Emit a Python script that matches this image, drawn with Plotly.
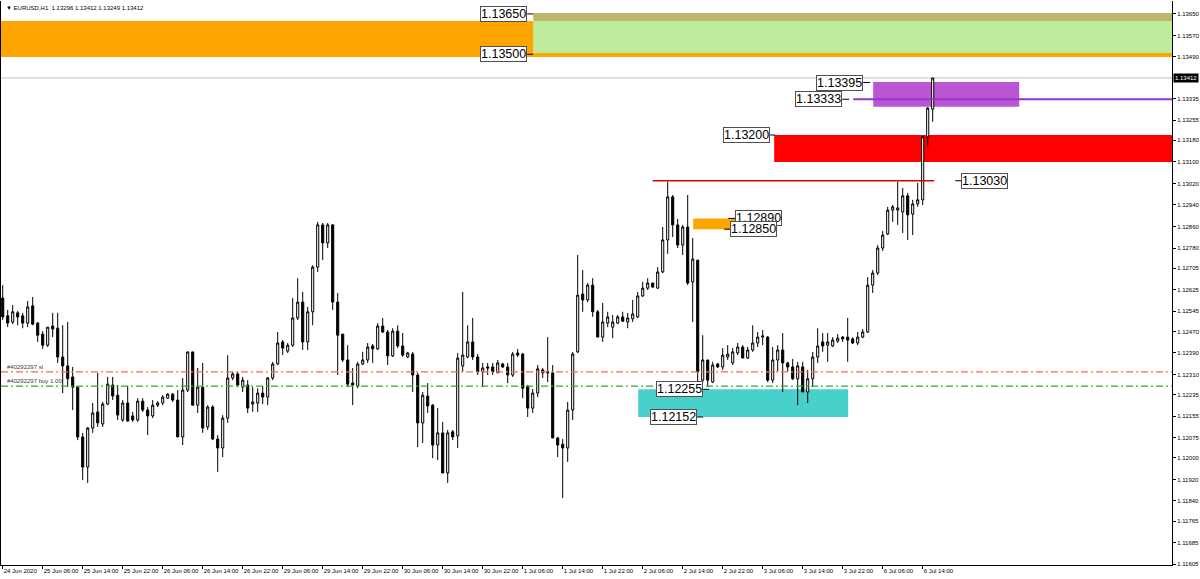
import plotly.graph_objects as go

# ---------------- data (EURUSD H1) ----------------
open_ = [1.12594,1.12528,1.12505,1.12539,1.12528,1.12501,1.12565,1.12501,1.12460,1.12419,
         1.12490,1.12482,1.12375,1.12342,1.12301,1.12263,1.12078,1.11966,1.12111,1.12171,
         1.12126,1.12200,1.12271,1.12233,1.12141,1.12204,1.12156,1.12141,1.12211,1.12178,
         1.12156,1.12196,1.12204,1.12222,1.12237,1.12215,1.12078,1.12252,1.12394,1.12196,
         1.12263,1.12115,1.12189,1.12070,1.12037,1.12148,1.12297,1.12312,1.12263,1.12271,
         1.12200,1.12204,1.12241,1.12226,1.12297,1.12349,1.12431,1.12397,1.12419,1.12520,
         1.12579,1.12431,1.12543,1.12709,1.12866,1.12799,1.12866,1.12579,1.12460,1.12364,
         1.12278,1.12267,1.12349,1.12364,1.12416,1.12405,1.12490,1.12468,1.12379,1.12471,
         1.12416,1.12375,1.12386,1.12308,1.12130,1.12230,1.12196,1.12048,1.12093,1.11944,
         1.12097,1.12082,1.12342,1.12375,1.12431,1.12375,1.12320,1.12338,1.12338,1.12316,
         1.12349,1.12338,1.12308,1.12390,1.12386,1.12267,1.12185,1.12241,1.12327,1.12320,
         1.12316,1.12074,1.12051,1.12037,1.12178,1.12394,1.12609,1.12587,1.12642,1.12543,
         1.12449,1.12501,1.12486,1.12501,1.12524,1.12505,1.12517,1.12524,1.12602,1.12631,
         1.12650,1.12631,1.12691,1.12810,1.12970,1.12866,1.12791,1.12858,1.12654,1.12735,
         1.12289,1.12364,1.12282,1.12349,1.12338,1.12375,1.12353,1.12390,1.12412,1.12371,
         1.12401,1.12427,1.12449,1.12449,1.12289,1.12364,1.12401,1.12353,1.12338,1.12294,
         1.12338,1.12245,1.12294,1.12375,1.12431,1.12419,1.12416,1.12434,1.12449,1.12449,
         1.12442,1.12427,1.12449,1.12468,1.12642,1.12687,1.12780,1.12832,1.12921,1.12921,
         1.12914,1.12974,1.12906,1.12944,1.12959,1.13193,1.13296]
high = [1.12642,1.12550,1.12568,1.12546,1.12539,1.12583,1.12598,1.12505,1.12471,1.12486,
        1.12539,1.12539,1.12493,1.12505,1.12338,1.12263,1.12093,1.12115,1.12204,1.12316,
        1.12208,1.12301,1.12301,1.12271,1.12215,1.12267,1.12171,1.12222,1.12222,1.12189,
        1.12215,1.12211,1.12233,1.12241,1.12241,1.12252,1.12297,1.12394,1.12394,1.12334,
        1.12353,1.12196,1.12196,1.12085,1.12159,1.12382,1.12320,1.12320,1.12301,1.12289,
        1.12263,1.12259,1.12267,1.12301,1.12357,1.12468,1.12438,1.12427,1.12594,1.12668,
        1.12617,1.12561,1.12716,1.12877,1.12873,1.12873,1.12869,1.12613,1.12460,1.12419,
        1.12334,1.12357,1.12394,1.12427,1.12423,1.12501,1.12520,1.12475,1.12482,1.12493,
        1.12464,1.12394,1.12394,1.12316,1.12245,1.12278,1.12200,1.12185,1.12134,1.12104,
        1.12104,1.12390,1.12617,1.12493,1.12520,1.12386,1.12353,1.12353,1.12353,1.12364,
        1.12353,1.12353,1.12394,1.12405,1.12390,1.12271,1.12256,1.12345,1.12334,1.12449,
        1.12345,1.12078,1.12070,1.12208,1.12394,1.12754,1.12698,1.12650,1.12668,1.12550,
        1.12576,1.12543,1.12531,1.12531,1.12543,1.12539,1.12587,1.12617,1.12654,1.12668,
        1.12650,1.12709,1.12858,1.13026,1.12977,1.12888,1.12866,1.12977,1.12817,1.12735,
        1.12456,1.12364,1.12357,1.12353,1.12408,1.12419,1.12408,1.12427,1.12419,1.12412,
        1.12493,1.12468,1.12475,1.12453,1.12412,1.12419,1.12464,1.12357,1.12368,1.12357,
        1.12357,1.12327,1.12394,1.12482,1.12464,1.12464,1.12449,1.12460,1.12453,1.12520,
        1.12449,1.12468,1.12479,1.12672,1.12698,1.12791,1.12843,1.12933,1.12940,1.13026,
        1.13003,1.12985,1.12959,1.13022,1.13197,1.13304,1.13412]
low = [1.12512,1.12486,1.12497,1.12493,1.12482,1.12486,1.12493,1.12431,1.12405,1.12412,
       1.12449,1.12353,1.12241,1.12263,1.12178,1.12066,1.11918,1.11907,1.12093,1.12115,
       1.12115,1.12196,1.12215,1.12141,1.12134,1.12134,1.12134,1.12134,1.12171,1.12085,
       1.12148,1.12189,1.12196,1.12219,1.12208,1.12078,1.12048,1.12245,1.12196,1.12167,
       1.12093,1.12104,1.12066,1.11948,1.12003,1.12130,1.12289,1.12263,1.12245,1.12167,
       1.12171,1.12171,1.12200,1.12196,1.12289,1.12345,1.12382,1.12390,1.12412,1.12512,
       1.12401,1.12401,1.12493,1.12691,1.12735,1.12780,1.12550,1.12308,1.12357,1.12263,
       1.12196,1.12259,1.12345,1.12353,1.12353,1.12401,1.12464,1.12345,1.12375,1.12408,
       1.12375,1.12371,1.12245,1.12040,1.12055,1.12167,1.11999,1.11992,1.11944,1.11907,
       1.12066,1.12037,1.12320,1.12371,1.12364,1.12308,1.12263,1.12308,1.12308,1.12316,
       1.12334,1.12278,1.12301,1.12375,1.12222,1.12152,1.12167,1.12226,1.12297,1.12282,
       1.12074,1.12003,1.11851,1.11985,1.12141,1.12390,1.12543,1.12579,1.12524,1.12449,
       1.12431,1.12486,1.12445,1.12497,1.12505,1.12482,1.12505,1.12520,1.12598,1.12624,
       1.12631,1.12628,1.12687,1.12758,1.12821,1.12780,1.12754,1.12642,1.12505,1.12278,
       1.12278,1.12263,1.12278,1.12334,1.12327,1.12364,1.12345,1.12382,1.12371,1.12368,
       1.12394,1.12412,1.12419,1.12282,1.12278,1.12320,1.12245,1.12320,1.12289,1.12196,
       1.12245,1.12204,1.12263,1.12353,1.12394,1.12357,1.12412,1.12427,1.12431,1.12357,
       1.12423,1.12419,1.12445,1.12464,1.12613,1.12679,1.12769,1.12828,1.12877,1.12866,
       1.12836,1.12810,1.12828,1.12933,1.12940,1.13156,1.13249]
close = [1.12524,1.12501,1.12543,1.12524,1.12501,1.12561,1.12497,1.12456,1.12419,1.12486,
         1.12479,1.12375,1.12342,1.12294,1.12263,1.12078,1.11966,1.12111,1.12167,1.12130,
         1.12200,1.12274,1.12230,1.12159,1.12204,1.12137,1.12141,1.12211,1.12178,1.12156,
         1.12196,1.12204,1.12226,1.12237,1.12215,1.12078,1.12252,1.12394,1.12196,1.12263,
         1.12111,1.12189,1.12070,1.12037,1.12148,1.12297,1.12312,1.12271,1.12289,1.12185,
         1.12208,1.12241,1.12226,1.12297,1.12349,1.12427,1.12408,1.12419,1.12520,1.12579,
         1.12431,1.12543,1.12709,1.12866,1.12799,1.12866,1.12579,1.12456,1.12364,1.12274,
         1.12271,1.12349,1.12364,1.12412,1.12405,1.12490,1.12468,1.12379,1.12471,1.12416,
         1.12382,1.12390,1.12308,1.12130,1.12233,1.12193,1.12048,1.12093,1.11944,1.12093,
         1.12078,1.12371,1.12382,1.12431,1.12375,1.12320,1.12334,1.12334,1.12320,1.12353,
         1.12338,1.12308,1.12386,1.12382,1.12259,1.12185,1.12241,1.12331,1.12316,1.12316,
         1.12074,1.12048,1.12037,1.12178,1.12386,1.12605,1.12587,1.12642,1.12543,1.12449,
         1.12505,1.12524,1.12505,1.12524,1.12508,1.12520,1.12535,1.12602,1.12631,1.12650,
         1.12635,1.12691,1.12810,1.12970,1.12866,1.12791,1.12858,1.12650,1.12739,1.12320,
         1.12364,1.12289,1.12345,1.12338,1.12382,1.12386,1.12394,1.12412,1.12371,1.12401,
         1.12427,1.12449,1.12453,1.12289,1.12364,1.12401,1.12353,1.12338,1.12294,1.12342,
         1.12245,1.12294,1.12375,1.12416,1.12416,1.12431,1.12438,1.12445,1.12442,1.12438,
         1.12427,1.12449,1.12468,1.12642,1.12687,1.12780,1.12828,1.12921,1.12933,1.12929,
         1.12974,1.12903,1.12944,1.12959,1.13193,1.13300,1.13412]

time_labels = ["24 Jun 2020", "25 Jun 06:00", "25 Jun 14:00", "25 Jun 22:00", "26 Jun 06:00",
               "26 Jun 14:00", "26 Jun 22:00", "29 Jun 06:00", "29 Jun 14:00", "29 Jun 22:00",
               "30 Jun 06:00", "30 Jun 14:00", "30 Jun 22:00", "1 Jul 06:00", "1 Jul 14:00",
               "1 Jul 22:00", "2 Jul 06:00", "2 Jul 14:00", "2 Jul 22:00", "3 Jul 06:00",
               "3 Jul 14:00", "3 Jul 22:00", "6 Jul 06:00", "6 Jul 14:00"]
bars_per_time_label = 8

price_ticks = ["1.13650", "1.13570", "1.13490", "1.13335", "1.13255", "1.13180", "1.13100",
               "1.13020", "1.12940", "1.12860", "1.12780", "1.12705", "1.12625", "1.12545",
               "1.12470", "1.12390", "1.12310", "1.12235", "1.12155", "1.12075", "1.12000",
               "1.11920", "1.11840", "1.11765", "1.11685", "1.11605"]

symbol_title = "EURUSD,H1"
current_price = 1.13412
sl_price = 1.12320
buy_price = 1.12267
sl_text = "#40292297 sl"
buy_text = "#40292297 buy 1.00"

# zones: start bar, end bar, lower price, upper price
zone_bars = [(-1, 240), (106.1, 240), (106.1, 240), (174.1, 203.3), (154.3, 240), (138.1, 146.7), (127.1, 169.1)]
zone_prices = [(1.13490, 1.13624), (1.13624, 1.13653), (1.13505, 1.13624), (1.13305, 1.13397),
               (1.13100, 1.13200), (1.12850, 1.12890), (1.12152, 1.12255)]
zone_colors = ["#FFA500", "#BDB76B", "#BEEB9C", "#BA55D3", "#FF0000", "#FFA500", "#48D1CC"]

# price labels: text, tick start bar, tick end bar, box side
level_labels = ["1.13650", "1.13500", "1.13395", "1.13333", "1.13200",
                "1.13030", "1.12890", "1.12850", "1.12255", "1.12152"]
level_ticks = [(104.9, 106.1), (104.9, 106.1), (172.1, 173.5), (167.9, 169.3), (153.5, 154.5),
               (190.5, 191.7), (145.1, 146.5), (144.3, 145.5), (140.1, 141.3), (138.9, 140.1)]
level_side = ["left", "left", "left", "left", "left", "right", "right", "right", "left", "left"]

purple_line = (170.1, 240, 1.13333)
red_line = (130.0, 186.3, 1.13030)

# ---------------- figure ----------------
bars = list(range(len(open_)))
XR = [-0.34, 233.86]
YR = [1.11602, 1.13698]
FONT = "Liberation Sans, Arial, sans-serif"
SMALL = dict(family=FONT, size=6, color="black")

fig = go.Figure()
fig.add_trace(go.Candlestick(
    x=bars, open=open_, high=high, low=low, close=close,
    increasing=dict(line=dict(color="black", width=1), fillcolor="white"),
    decreasing=dict(line=dict(color="black", width=1), fillcolor="black"),
    whiskerwidth=0, showlegend=False, hoverinfo="skip"))

shapes = []
for (x0, x1), (p0, p1), col in zip(zone_bars, zone_prices, zone_colors):
    shapes.append(dict(type="rect", xref="x", yref="y", x0=max(x0, XR[0]), x1=min(x1, XR[1]),
                       y0=p0, y1=p1, fillcolor=col, line=dict(width=0), layer="below"))
# bid line
shapes.append(dict(type="line", xref="x", yref="y", x0=XR[0], x1=XR[1], y0=current_price, y1=current_price,
                   line=dict(color="#C0C0C0", width=1), layer="below"))
# purple level line
shapes.append(dict(type="line", xref="x", yref="y", x0=purple_line[0], x1=XR[1], y0=purple_line[2],
                   y1=purple_line[2], line=dict(color="#9932CC", width=2)))
# red level line
shapes.append(dict(type="line", xref="x", yref="y", x0=red_line[0], x1=red_line[1], y0=red_line[2],
                   y1=red_line[2], line=dict(color="#E00000", width=1.5)))
# order lines
shapes.append(dict(type="line", xref="x", yref="y", x0=XR[0], x1=XR[1], y0=sl_price, y1=sl_price,
                   line=dict(color="#FF6A3D", width=1.2, dash="7px,3px,2px,3px")))
shapes.append(dict(type="line", xref="x", yref="y", x0=XR[0], x1=XR[1], y0=buy_price, y1=buy_price,
                   line=dict(color="#2EAD2E", width=1.2, dash="7px,3px,2px,3px")))

annotations = []
for txt, (t0, t1), side in zip(level_labels, level_ticks, level_side):
    p = float(txt)
    shapes.append(dict(type="line", xref="x", yref="y", x0=t0, x1=t1, y0=p, y1=p,
                       line=dict(color="black", width=1)))
    annotations.append(dict(xref="x", yref="y", x=t0 if side == "left" else t1, y=p,
                            xanchor="right" if side == "left" else "left", yanchor="middle",
                            text=txt, showarrow=False, bgcolor="white", bordercolor="#505050",
                            borderwidth=1, borderpad=0,
                            font=dict(family=FONT, size=12.5, color="black")))

# current price tag on axis
annotations.append(dict(xref="paper", yref="y", x=1, y=current_price, xanchor="left", yanchor="middle",
                        xshift=1, text=f"{current_price:.5f}", showarrow=False, bgcolor="black",
                        borderpad=1, font=dict(family=FONT, size=6, color="white")))
# order labels
annotations.append(dict(xref="paper", yref="y", x=0, y=sl_price, xanchor="left", yanchor="bottom",
                        xshift=4, text=sl_text, showarrow=False, font=dict(SMALL, color="#404040")))
annotations.append(dict(xref="paper", yref="y", x=0, y=buy_price, xanchor="left", yanchor="bottom",
                        xshift=4, text=buy_text, showarrow=False, font=dict(SMALL, color="#404040")))
# title
title_txt = "\u25BC " + symbol_title + "\u00a0\u00a0" + " ".join(
    f"{v:.5f}" for v in (open_[-1], high[-1], low[-1], close[-1]))
annotations.append(dict(xref="paper", yref="paper", x=0, y=1, xanchor="left", yanchor="top",
                        xshift=3, yshift=-2, text=title_txt, showarrow=False, font=SMALL))

fig.update_layout(
    width=1200, height=579, margin=dict(l=1, r=28, t=1, b=14, autoexpand=False),
    paper_bgcolor="white", plot_bgcolor="white", boxgap=0.4,
    shapes=shapes, annotations=annotations,
    xaxis=dict(range=XR, rangeslider=dict(visible=False), showgrid=False, zeroline=False,
               automargin=False, tickangle=0,
               tickmode="array", tickvals=[i * bars_per_time_label for i in range(len(time_labels))],
               ticktext=time_labels, ticks="outside", ticklen=3, tickcolor="black",
               ticklabelposition="outside right", tickfont=SMALL,
               showline=True, linecolor="black", linewidth=1),
    yaxis=dict(range=YR, side="right", showgrid=False, zeroline=False, automargin=False,
               tickmode="array", tickvals=[float(t) for t in price_ticks], ticktext=price_ticks,
               ticks="outside", ticklen=3, tickcolor="black", tickfont=SMALL,
               showline=True, linecolor="black", linewidth=1, mirror=True),
)

fig.write_html("out.html", config={"displayModeBar": False, "staticPlot": True},
               post_script="document.body.style.margin='0';document.body.style.overflow='hidden';")
